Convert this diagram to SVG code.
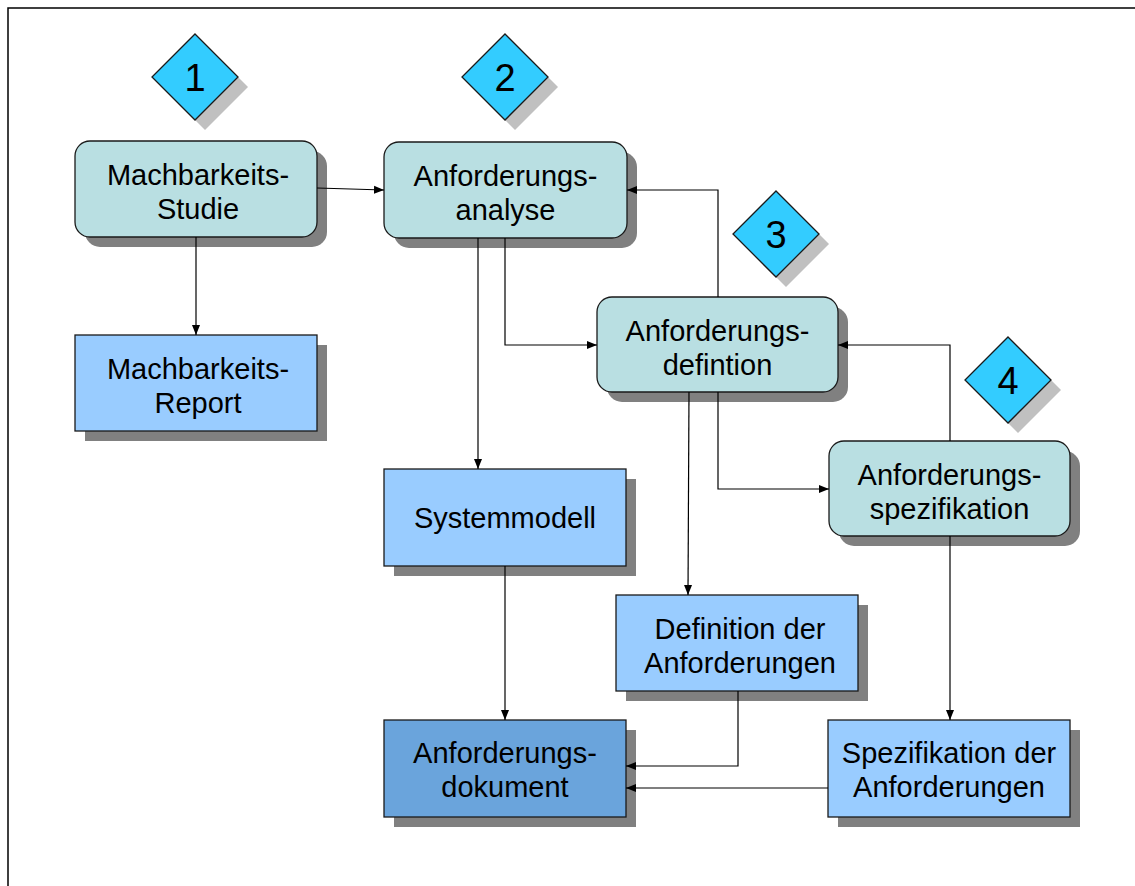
<svg xmlns="http://www.w3.org/2000/svg" width="1135" height="886" viewBox="0 0 1135 886">
  <style>
    .shadow { fill: #808080; }
    .dshadow { fill: #c0c0c0; }
    .proc { fill: #b9dfe2; stroke: #1a1a1a; stroke-width: 1.3; }
    .prod { fill: #99ccff; stroke: #1a1a1a; stroke-width: 1.3; }
    .doc { fill: #6aa4dc; stroke: #1a1a1a; stroke-width: 1.3; }
    .diamond { fill: #33ccff; stroke: #1a1a1a; stroke-width: 1.3; }
    .label { font-family: "Liberation Sans", Arial, sans-serif; font-size: 29px; fill: #000; text-anchor: middle; }
    .num { font-family: "Liberation Sans", Arial, sans-serif; font-size: 38px; fill: #000; text-anchor: middle; }
    .conn { fill: none; stroke: #000; stroke-width: 1.2; marker-end: url(#arrow); }
    .frame { fill: none; stroke: #000; stroke-width: 1.5; }
  </style>
  <defs>
    <marker id="arrow" viewBox="0 0 10 10" refX="10" refY="5" markerWidth="10" markerHeight="10" markerUnits="userSpaceOnUse" orient="auto">
      <path d="M0,1 L10,5 L0,9 Z" fill="#000"/>
    </marker>
  </defs>

  <rect width="1135" height="886" fill="#fff"/>
  <path class="frame" d="M8,886 L8,8 L1135,8"/>

  <!-- phase markers -->
  <g id="marker1">
    <path class="dshadow" d="M205,44 L248,87 L205,130 L162,87 Z"/>
    <path class="diamond" d="M195,34 L238,77 L195,120 L152,77 Z"/>
    <text class="num" x="195" y="91">1</text>
  </g>
  <g id="marker2">
    <path class="dshadow" d="M515,44 L558,87 L515,130 L472,87 Z"/>
    <path class="diamond" d="M505,34 L548,77 L505,120 L462,77 Z"/>
    <text class="num" x="505" y="91">2</text>
  </g>
  <g id="marker3">
    <path class="dshadow" d="M786,201 L829,244 L786,287 L743,244 Z"/>
    <path class="diamond" d="M776,191 L819,234 L776,277 L733,234 Z"/>
    <text class="num" x="776" y="248">3</text>
  </g>
  <g id="marker4">
    <path class="dshadow" d="M1018,347 L1061,390 L1018,433 L975,390 Z"/>
    <path class="diamond" d="M1008,337 L1051,380 L1008,423 L965,380 Z"/>
    <text class="num" x="1008" y="394">4</text>
  </g>

  <!-- process steps -->
  <g id="machbarkeitsstudie">
    <rect class="shadow" x="85" y="151" width="242" height="96" rx="15"/>
    <rect class="proc" x="75" y="141" width="242" height="96" rx="15"/>
    <text class="label" x="198" y="185">Machbarkeits-</text>
    <text class="label" x="198" y="219">Studie</text>
  </g>
  <g id="anforderungsanalyse">
    <rect class="shadow" x="394" y="152" width="243" height="96" rx="15"/>
    <rect class="proc" x="384" y="142" width="243" height="96" rx="15"/>
    <text class="label" x="505.5" y="186">Anforderungs-</text>
    <text class="label" x="505.5" y="220">analyse</text>
  </g>
  <g id="anforderungsdefinition">
    <rect class="shadow" x="607" y="307" width="241" height="95" rx="15"/>
    <rect class="proc" x="597" y="297" width="241" height="95" rx="15"/>
    <text class="label" x="717.5" y="341">Anforderungs-</text>
    <text class="label" x="717.5" y="375">defintion</text>
  </g>
  <g id="anforderungsspezifikation">
    <rect class="shadow" x="839" y="451" width="241" height="95" rx="15"/>
    <rect class="proc" x="829" y="441" width="241" height="95" rx="15"/>
    <text class="label" x="949.5" y="485">Anforderungs-</text>
    <text class="label" x="949.5" y="519">spezifikation</text>
  </g>

  <!-- work products -->
  <g id="machbarkeitsreport">
    <rect class="shadow" x="85" y="345" width="242" height="96"/>
    <rect class="prod" x="75" y="335" width="242" height="96"/>
    <text class="label" x="198" y="379">Machbarkeits-</text>
    <text class="label" x="198" y="413">Report</text>
  </g>
  <g id="systemmodell">
    <rect class="shadow" x="394" y="479" width="242" height="97"/>
    <rect class="prod" x="384" y="469" width="242" height="97"/>
    <text class="label" x="505" y="528">Systemmodell</text>
  </g>
  <g id="definition-der-anforderungen">
    <rect class="shadow" x="626" y="605" width="242" height="96"/>
    <rect class="prod" x="616" y="595" width="242" height="96"/>
    <text class="label" x="740" y="639">Definition der</text>
    <text class="label" x="740" y="673">Anforderungen</text>
  </g>
  <g id="anforderungsdokument">
    <rect class="shadow" x="394" y="730" width="242" height="97"/>
    <rect class="doc" x="384" y="720" width="242" height="97"/>
    <text class="label" x="505" y="763">Anforderungs-</text>
    <text class="label" x="505" y="797">dokument</text>
  </g>
  <g id="spezifikation-der-anforderungen">
    <rect class="shadow" x="838" y="730" width="242" height="97"/>
    <rect class="prod" x="828" y="720" width="242" height="97"/>
    <text class="label" x="949" y="763">Spezifikation der</text>
    <text class="label" x="949" y="797">Anforderungen</text>
  </g>

  <!-- connectors -->
  <g id="connectors">
    <path class="conn" d="M317,188 L384,190"/>
    <path class="conn" d="M196,237 L196,335"/>
    <path class="conn" d="M478,238 L478,469"/>
    <path class="conn" d="M505,238 L505,345 L597,345"/>
    <path class="conn" d="M718,297 L718,190 L627,190"/>
    <path class="conn" d="M689,392 L688,595"/>
    <path class="conn" d="M718,392 L718,489 L829,489"/>
    <path class="conn" d="M950,441 L950,345 L838,345"/>
    <path class="conn" d="M950,536 L950,720"/>
    <path class="conn" d="M505,566 L505,720"/>
    <path class="conn" d="M738,691 L738,766 L626,766"/>
    <path class="conn" d="M828,788 L626,788"/>
  </g>
</svg>
